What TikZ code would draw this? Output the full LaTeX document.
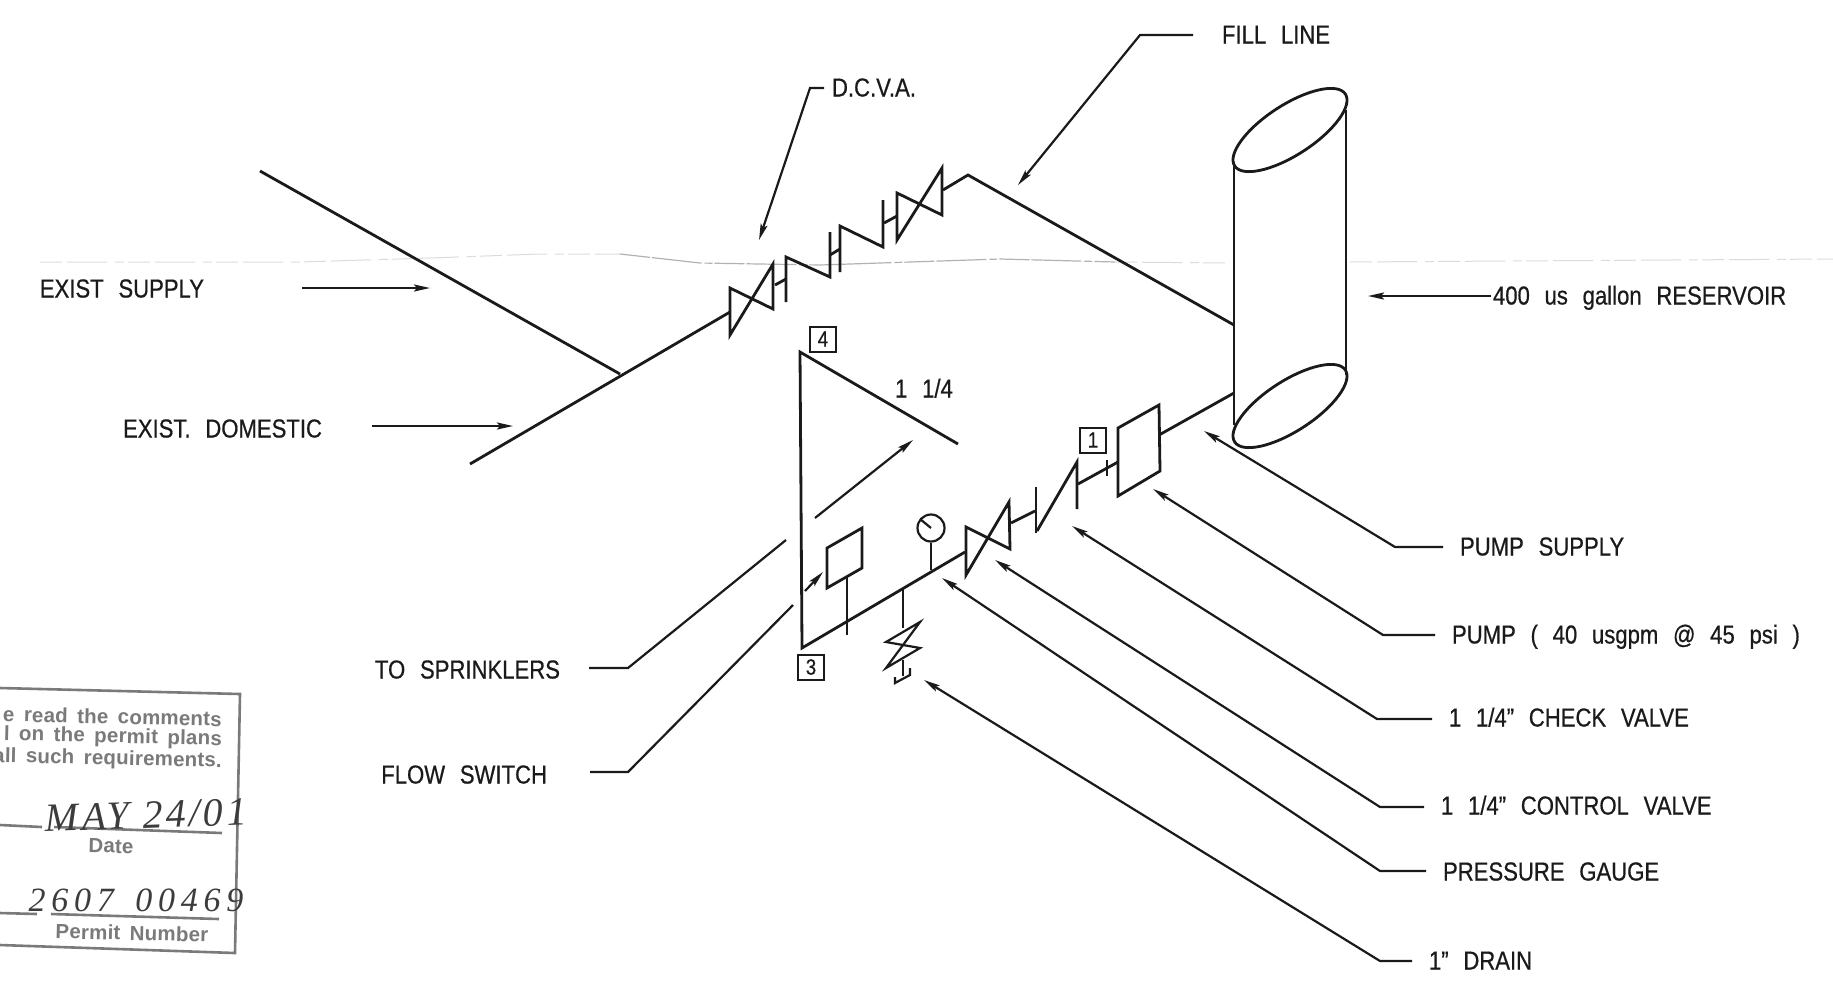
\documentclass[tikz,border=0pt]{standalone}
\usepackage{fontspec}
\setmainfont[FakeStretch=0.85,WordSpace=2.4,FakeBold=0.6]{Liberation Sans}
\newfontfamily\stampfont[LetterSpace=1,WordSpace=1.6]{Liberation Sans}
\newfontfamily\handfont[LetterSpace=8]{Liberation Serif}
\newfontfamily\handwide[LetterSpace=17,WordSpace=1.5]{Liberation Serif}
\usetikzlibrary{arrows.meta}
\definecolor{ink}{HTML}{1A1A1A}
\definecolor{stampgrey}{HTML}{7A7A7A}
\tikzset{
  x=1pt,y=-1pt,
  pipe/.style={draw=ink,line width=2.8pt,line join=miter},
  thin pipe/.style={draw=ink,line width=2.2pt},
  lead/.style={draw=ink,line width=2.2pt,-{Stealth[length=16pt,width=7pt,inset=3pt]},line join=miter},
  plainlead/.style={draw=ink,line width=2.2pt,line join=miter},
  lbl/.style={font=\fontsize{26}{28}\selectfont,text=ink,inner ysep=0pt,outer sep=0pt,text height=17pt,text depth=0pt},
  lblw/.style={lbl,anchor=west,inner xsep=17pt},
  lble/.style={lbl,anchor=east,inner xsep=17pt},
  tag/.style={draw=ink,line width=2pt,minimum width=26pt,minimum height=25pt,inner sep=0pt,font=\fontsize{22}{24}\selectfont,text=ink},
  stamptxt/.style={font=\stampfont\bfseries\fontsize{20.5}{22}\selectfont,text=stampgrey,inner sep=0pt,rotate=-1.3},
  stampline/.style={draw=stampgrey,line width=2.6pt},
  hand/.style={font=\handfont\itshape\fontsize{40}{42}\selectfont,text=ink!85,inner sep=0pt},
  creasea/.style={draw=black!14,line width=1pt,dash pattern=on 22pt off 5pt on 40pt off 8pt on 9pt off 4pt},
  creaseb/.style={draw=black!30,line width=1.2pt,dash pattern=on 30pt off 2pt on 50pt off 3pt on 8pt off 2pt},
}
\begin{document}
\begin{tikzpicture}
\useasboundingbox (0,0) rectangle (1833,997);
% scan crease
\draw[creasea] (40,262) -- (300,262) -- (430,258) -- (540,254) -- (620,254);
\draw[creaseb] (620,254) -- (700,263) -- (820,265) -- (1000,259) -- (1115,262);
\draw[creasea] (1115,262) -- (1230,263);
\draw[creasea] (1350,262) -- (1833,259);

% named junctions
\coordinate (supplyStart) at (260,171);
\coordinate (tee) at (620,374);
\coordinate (domStart) at (470,464);
\coordinate (v1in) at (730,312);
\coordinate (apex) at (968,175);
\coordinate (tankFill) at (1234,325);
\coordinate (tankOut) at (1234,393);
\coordinate (pumpOut) at (1159,435);
\coordinate (pumpIn) at (1118,462);
\coordinate (corner3) at (802,648);
\coordinate (corner4) at (800,352);
\coordinate (riserEnd) at (958,444);
\coordinate (v3in) at (965,552);

% supply
\draw[pipe] (supplyStart) -- (tee);
\draw[pipe] (domStart) -- (v1in);
% DCVA assembly
\draw[pipe] (730,288) -- (773,309) -- (773,264) -- (730,335) -- cycle;
\draw[pipe] (775,285) -- (786,279);
\draw[pipe] (786,302) -- (786,257) -- (830,277) -- (830,232);
\draw[pipe] (830,255) -- (840,249);
\draw[pipe] (840,272) -- (840,226) -- (883,247) -- (883,200);
\draw[pipe] (884,223) -- (897,216);
\draw[pipe] (897,240) -- (897,193) -- (942,215) -- (942,168) -- cycle;
\draw[pipe] (943,190) -- (apex) -- (tankFill);

% reservoir
\draw[pipe] (1290,130) ellipse [x radius=66,y radius=25,rotate=33];
\draw[pipe] (1290,406) ellipse [x radius=66,y radius=25,rotate=33];
\draw[thin pipe] (1234,162) -- (1234,425);
\draw[thin pipe] (1346,110) -- (1346,375);

% pump line
\draw[pipe] (tankOut) -- (pumpOut);
\draw[pipe] (1118,428) -- (1159,405) -- (1160,471) -- (1118,496) -- cycle;
\draw[pipe] (pumpIn) -- (1078,484);
\draw[thin pipe] (1107,460) -- (1107,476);
\draw[pipe] (1077,509) -- (1077,462) -- (1037,531);
\draw[pipe] (1036,533) -- (1036,487);
\draw[pipe] (1035,511) -- (1011,523);
\draw[pipe] (966,527) -- (1010,549) -- (1009,502) -- (966,575) -- cycle;
\draw[pipe] (v3in) -- (corner3) -- (corner4) -- (riserEnd);
% gauge
\node[circle,draw=ink,line width=2.2pt,minimum size=27pt,inner sep=0pt] (gauge) at (931,528) {};
\draw[thin pipe] (920,519) -- (gauge.center);
\draw[thin pipe] (gauge.south) -- (931,570);
% flow switch
\draw[pipe] (827,548) -- (862,528) -- (862,568) -- (827,588) -- cycle;
\draw[thin pipe] (847,578) -- (847,635);
% drain
\draw[thin pipe] (903,588) -- (903,628);
\draw[thin pipe] (920,622) -- (886,642) -- (920,648) -- (886,668) -- cycle;
\draw[thin pipe] (903,660) -- (903,676);
\draw[thin pipe] (895,677) -- (895,683) -- (910,675) -- (910,668);

% flow arrows
\coordinate (flowA1) at (815,518);
\coordinate (flowA2) at (913,440);
\coordinate (flowB1) at (805,591);
\coordinate (flowB2) at (823,572);
\draw[lead] (flowA1) -- (flowA2);
\draw[lead] (flowB1) -- (flowB2);

% tags and size
\node[tag] (t4) at (823,339) {4};
\node[tag] (t3) at (811,667) {3};
\node[tag] (t1) at (1093,440) {1};
\node[lbl] (size) at (924,389) {1 1/4};

% labels
\node[lblw,inner xsep=8pt] (dcva) at (824,88) {D.C.V.A.};
\node[lblw,inner xsep=29pt] (fill) at (1193,35) {FILL LINE};
\node[lble,inner xsep=0pt] (exsup) at (204,289) {EXIST SUPPLY};
\node[lble,inner xsep=0pt] (exdom) at (322,429) {EXIST. DOMESTIC};
\node[lblw,inner xsep=2pt] (res) at (1491,296) {400 us gallon RESERVOIR};
\node[lblw] (psup) at (1443,547) {PUMP SUPPLY};
\node[lblw] (pump) at (1435,635) {PUMP ( 40 usgpm @ 45 psi )};
\node[lblw] (chk) at (1432,718) {1 1/4" CHECK VALVE};
\node[lblw] (ctl) at (1424,806) {1 1/4" CONTROL VALVE};
\node[lblw] (gg) at (1426,872) {PRESSURE GAUGE};
\node[lblw] (drn) at (1412,961) {1" DRAIN};
\node[lble,inner xsep=29pt] (spr) at (589,670) {TO SPRINKLERS};
\node[lble,inner xsep=43pt] (fsw) at (590,775) {FLOW SWITCH};

% leaders
\coordinate (dcvaTip) at (759,240);
\coordinate (fillTip) at (1018,185);
\coordinate (exsupStart) at (302,288);
\coordinate (exsupTip) at (430,288);
\coordinate (exdomStart) at (372,426);
\coordinate (exdomTip) at (513,426);
\coordinate (resTip) at (1368,296);
\coordinate (psupTip) at (1204,431);
\coordinate (pumpTip) at (1153,489);
\coordinate (chkTip) at (1072,526);
\coordinate (ctlTip) at (995,560);
\coordinate (ggTip) at (942,578);
\coordinate (drnTip) at (924,680);
\coordinate (sprEnd) at (786,540);
\coordinate (fswEnd) at (793,605);
\draw[lead] (dcva.west) -- (810,88) -- (dcvaTip);
\draw[lead] (fill.west) -- (1140,35) -- (fillTip);
\draw[lead] (exsupStart) -- (exsupTip);
\draw[lead] (exdomStart) -- (exdomTip);
\draw[lead] (res.west) -- (resTip);
\draw[lead] (psup.west) -- (1395,547) -- (psupTip);
\draw[lead] (pump.west) -- (1383,635) -- (pumpTip);
\draw[lead] ([yshift=-1pt]chk.west) -- (1377,719) -- (chkTip);
\draw[lead] ([yshift=-1pt]ctl.west) -- (1380,807) -- (ctlTip);
\draw[lead] ([yshift=1pt]gg.west) -- (1380,871) -- (ggTip);
\draw[lead] (drn.west) -- (1380,961) -- (drnTip);
\draw[plainlead] ([yshift=2pt]spr.east) -- (628,668) -- (sprEnd);
\draw[plainlead] ([yshift=3pt]fsw.east) -- (628,772) -- (fswEnd);

% stamp
\draw[stampline] (0,688) -- (240,694) -- (235,953) -- (0,945);
\node[stamptxt,anchor=east] (s1) at (222,719) {e read the comments};
\node[stamptxt,anchor=east] (s2) at (222,740) {l on the permit plans};
\node[stamptxt,anchor=east] (s3) at (222,762) {all such requirements.};
\draw[stampline] (0,825) -- (42,827);
\draw[stampline] (54,827) -- (222,833);
\draw[stampline] (0,913) -- (37,914);
\draw[stampline] (51,914) -- (219,919);
\node[stamptxt] (s4) at (111,846) {Date};
\node[stamptxt] (s5) at (132,933) {Permit Number};
\node[hand,rotate=2] (h1) at (146,815) {MAY 24/01};
\node[hand,font=\handwide\itshape\fontsize{34}{36}\selectfont] (h2) at (136,900) {2607 00469};
\end{tikzpicture}
\end{document}
